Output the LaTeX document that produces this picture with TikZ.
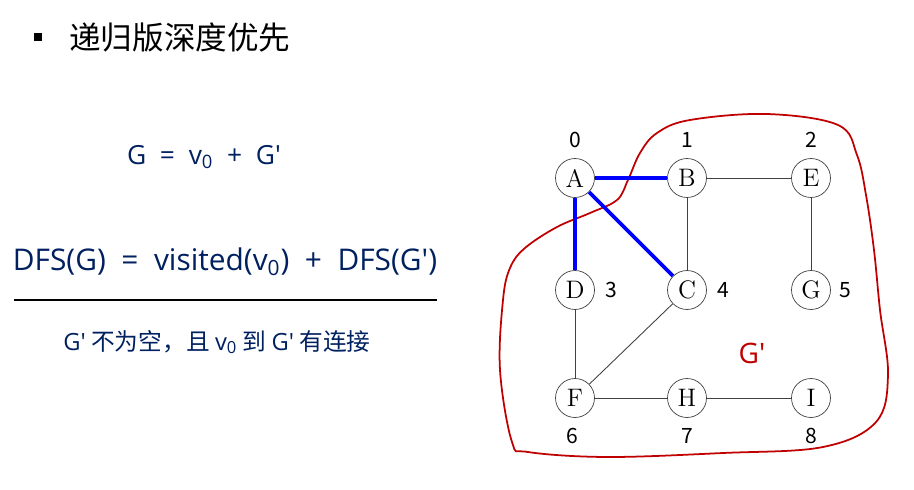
\documentclass[tikz,border=0pt]{standalone}
\usepackage{fontspec}
\newfontfamily\cjk{Noto Sans CJK SC}
\newfontfamily\formfont{Open Sans}
\usetikzlibrary{calc}
\definecolor{navy}{HTML}{002060}
\definecolor{darkred}{HTML}{C00000}

\begin{document}
\begin{tikzpicture}[x=0.02cm, y=-0.02cm,
	vertex/.style={draw=black!75, circle, minimum size=0.78cm, inner sep=0pt, font=\Large},
	edge/.style={draw=black!75, line width=0.5pt},
	visit/.style={draw=blue, line width=2.2pt},
	num/.style={font=\cjk\large}]
	\useasboundingbox (0,0) rectangle (914,490);
	
	% 标题
	\fill[black] (34,33) rectangle (42,41);
	\node[anchor=west, font=\cjk\fontsize{18}{22}\selectfont] (title) at (63,37) {递归版深度优先};
	
	% 左侧公式
	\node[navy, font=\formfont\fontsize{15}{18}\selectfont] (f1) at (204,157) {G \ = \ v\textsubscript{0} \ + \ G′};
	\node[navy, font=\formfont\fontsize{17}{20}\selectfont] (f2) at (225,262) {DFS(G) \ = \ visited(v\textsubscript{0}) \ + \ DFS(G′)};
	\draw[line width=1pt] (14,300) -- (437,300);
	\node[navy, font=\cjk\fontsize{13.5}{16}\selectfont] (f3) at (217,342) {{\formfont G'} 不为空，且 {\formfont v\textsubscript{0}} 到 {\formfont G'} 有连接};
	
	% 红色区域 G'
	\draw[darkred, line width=1pt] plot[smooth cycle, tension=0.6] coordinates {
		(690,120) (767,114) (838,125) (857,155) (866,195) (874,250) (880,310)
		(888,375) (876,422) (823,447) (723,453) (607,457) (528,452) (512,442)
		(500,370) (503,300) (510,268) (525,248) (557,227) (590,213) (617,200)
		(628,180) (640,153) (657,133)};
	\node[darkred, font=\formfont\fontsize{16}{18}\selectfont] (gp) at (752,353) {G′};
	
	% 顶点
	\node[vertex] (A) at (575,178) {A};
	\node[vertex] (B) at (687,178) {B};
	\node[vertex] (E) at (811,178) {E};
	\node[vertex] (D) at (575,290) {D};
	\node[vertex] (C) at (687,290) {C};
	\node[vertex] (G) at (811,290) {G};
	\node[vertex] (F) at (575,398) {F};
	\node[vertex] (H) at (687,398) {H};
	\node[vertex] (I) at (811,398) {I};
	
	% 边
	\draw[edge] (B) -- (E);
	\draw[edge] (B) -- (C);
	\draw[edge] (E) -- (G);
	\draw[edge] (D) -- (F);
	\draw[edge] (C) -- (F);
	\draw[edge] (F) -- (H);
	\draw[edge] (H) -- (I);
	\draw[visit] (A) -- (B);
	\draw[visit] (A) -- (D);
	\draw[visit] (A) -- (C);
	
	% 序号
	\node[num] (n0) at (575,140) {0};
	\node[num] (n1) at (687,140) {1};
	\node[num] (n2) at (811,140) {2};
	\node[num] (n3) at (611,290) {3};
	\node[num] (n4) at (723,290) {4};
	\node[num] (n5) at (845,290) {5};
	\node[num] (n6) at (572,436) {6};
	\node[num] (n7) at (687,436) {7};
	\node[num] (n8) at (811,436) {8};
\end{tikzpicture}
\end{document}
